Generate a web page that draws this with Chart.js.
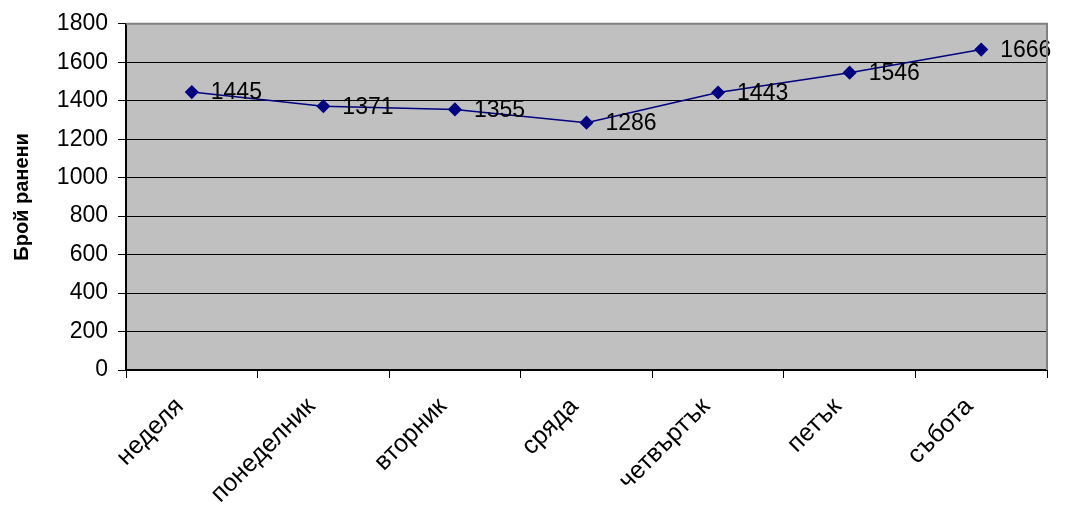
<!DOCTYPE html>
<html>
<head>
<meta charset="utf-8">
<script src="https://cdn.jsdelivr.net/npm/chart.js@4/dist/chart.umd.min.js"></script>
<style>
    body { margin: 0; background: #fff; }
    #wrap { width: 1066px; height: 514px; }
</style>
</head>
<body>
<div id="wrap"><canvas id="myChart"></canvas></div>
<script>
// jours de la semaine (en bulgare)
const days = ["неделя", "понеделник", "вторник", "сряда", "четвъртък", "петък", "събота"];
const injured = [1445, 1371, 1355, 1286, 1443, 1546, 1666];
const yTitle = "Брой ранени";

const fontFamily = "'Liberation Sans', Arial, sans-serif";

// fond gris + cadre de la zone de tracé
const plotBackground = {
    id: 'plotBackground',
    beforeDraw(chart) {
        const a = chart.chartArea;
        const c = chart.ctx;
        c.save();
        c.fillStyle = '#c0c0c0';
        c.fillRect(a.left, a.top, a.right - a.left, a.bottom - a.top);
        c.restore();
    },
    afterDraw(chart) {
        const a = chart.chartArea;
        const c = chart.ctx;
        c.save();
        c.strokeStyle = '#808080';
        c.lineWidth = 2;
        c.beginPath();
        c.moveTo(a.left, a.top);
        c.lineTo(a.right, a.top);
        c.lineTo(a.right, a.bottom);
        c.stroke();
        c.restore();
    }
};

// étiquettes de valeurs à droite des points
const valueLabels = {
    id: 'valueLabels',
    afterDatasetsDraw(chart) {
        const c = chart.ctx;
        const meta = chart.getDatasetMeta(0);
        c.save();
        c.font = '23px ' + fontFamily;
        c.fillStyle = '#000';
        c.textBaseline = 'middle';
        c.textAlign = 'left';
        meta.data.forEach(function (pt, i) {
            c.fillText(String(chart.data.datasets[0].data[i]), pt.x + 19, pt.y + 1);
        });
        c.restore();
    }
};

let ctx = document.getElementById('myChart').getContext('2d');
let myChart = new Chart(ctx, {
    type: 'line',
    data: {
        labels: days,
        datasets: [{
            data: injured,
            borderColor: '#000080',
            backgroundColor: '#000080',
            borderWidth: 1.5,
            pointStyle: 'rectRot',
            pointRadius: 6,
            pointHoverRadius: 6,
            tension: 0
        }]
    },
    options: {
        responsive: true,
        maintainAspectRatio: false,
        animation: false,
        layout: {
            padding: { top: 23, right: 19, left: 10, bottom: 0 }
        },
        plugins: {
            legend: { display: false },
            tooltip: { enabled: false }
        },
        scales: {
            x: {
                offset: true,
                afterFit: function (scale) { scale.height = 144; },
                grid: {
                    offset: true,
                    drawOnChartArea: false,
                    color: '#000',
                    tickLength: 8
                },
                border: { color: '#000', width: 2 },
                ticks: {
                    minRotation: 45,
                    maxRotation: 45,
                    padding: 14,
                    labelOffset: -12,
                    color: '#000',
                    font: { size: 25, family: fontFamily }
                }
            },
            y: {
                min: 0,
                max: 1800,
                afterFit: function (scale) { scale.width = 116; },
                grid: {
                    color: '#000',
                    lineWidth: 1,
                    tickLength: 8
                },
                border: { color: '#000', width: 2 },
                title: {
                    display: true,
                    text: yTitle,
                    color: '#000',
                    padding: { top: 0, bottom: 0 },
                    font: { size: 20, weight: 'bold', family: fontFamily }
                },
                ticks: {
                    stepSize: 200,
                    padding: 10,
                    color: '#000',
                    font: { size: 23, family: fontFamily },
                    callback: function (value) { return String(value); }
                }
            }
        }
    },
    plugins: [plotBackground, valueLabels]
});
</script>
</body>
</html>
